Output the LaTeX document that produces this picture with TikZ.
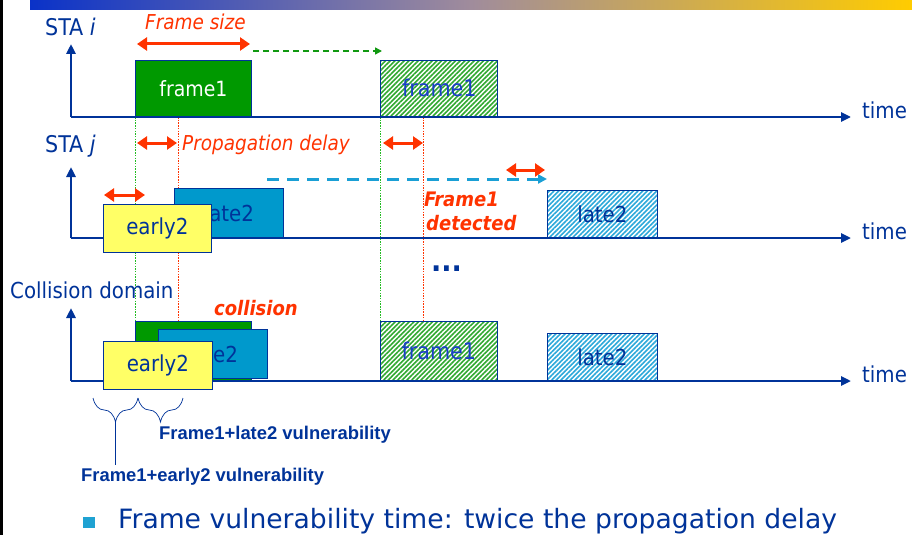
\documentclass[tikz,border=0pt]{standalone}
\usepackage{fontspec}
\setmainfont{DejaVuSansCondensed.ttf}[BoldFont=DejaVuSansCondensed-Bold.ttf, ItalicFont=DejaVuSansCondensed-Oblique.ttf, BoldItalicFont=DejaVuSansCondensed-BoldOblique.ttf]
\newfontfamily\arialf{Liberation Sans}
\newfontfamily\verdf{DejaVu Sans}
\usetikzlibrary{arrows.meta,patterns.meta,decorations.pathreplacing}
\definecolor{dblue}{HTML}{003399}
\definecolor{tblue}{HTML}{1A3FC8}
\definecolor{ored}{HTML}{FF3300}
\definecolor{fgreen}{HTML}{009900}
\definecolor{agreen}{HTML}{119911}
\definecolor{dotgreen}{HTML}{22BB22}
\definecolor{lblue}{HTML}{0099CC}
\definecolor{cdash}{HTML}{1A9FD5}
\definecolor{yel}{HTML}{FFFF66}
\definecolor{hgreen}{HTML}{2FA82F}
\definecolor{hcyan}{HTML}{2BA8DA}
\definecolor{bsq}{HTML}{1FA2D2}
\definecolor{gl}{HTML}{0A32C8}
\definecolor{gm}{HTML}{A08C9C}
\definecolor{gr}{HTML}{FFCC00}
\begin{document}
\begin{tikzpicture}[x=1pt,y=-1pt,
  lab/.style={text=dblue, inner sep=0, anchor=base west, font=\fontsize{23}{27}\selectfont},
  redlab/.style={text=ored, inner sep=0, anchor=base west, font=\fontsize{20.5}{24}\selectfont\itshape},
  redbold/.style={text=ored, inner sep=0, anchor=base west, font=\fontsize{20}{24}\selectfont\bfseries\itshape},
  frbox/.style={draw=dblue, line width=0.8pt, inner sep=0, anchor=south west, font=\fontsize{21}{25}\selectfont},
  axisline/.style={draw=dblue, line width=2.6pt, -{Triangle[length=10pt,width=9pt]}},
  dblarrow/.style={draw=ored, line width=3pt, {Triangle[length=10pt,width=13pt]}-{Triangle[length=10pt,width=13pt]}},
  gdot/.style={draw=dotgreen, line width=1pt, dash pattern=on 1.5pt off 1.2pt},
  rdot/.style={draw=ored, line width=1pt, dash pattern=on 1.5pt off 1.2pt},
  hatchg/.style={preaction={fill=white}, pattern={Lines[angle=45,distance=3.3pt,line width=1.6pt]}, pattern color=hgreen},
  hatchc/.style={preaction={fill=white}, pattern={Lines[angle=45,distance=3.3pt,line width=1.6pt]}, pattern color=hcyan},
  vuln/.style={text=dblue, inner sep=0, anchor=base west, font=\arialf\bfseries\fontsize{18.4}{22}\selectfont},
  brc/.style={draw=dblue, line width=0.7pt, decorate, decoration={brace, amplitude=24pt, mirror}}
]
\useasboundingbox (0,0) rectangle (912,535);
\fill[white] (0,0) rectangle (912,535);
% header
\shade[left color=gl, right color=gr, middle color=gm] (30,0) rectangle (912,10);
\fill[black] (0,0) rectangle (2.5,535);

% axes coordinates
\coordinate (o1) at (71,117); \coordinate (t1) at (71,44); \coordinate (e1) at (851,117);
\coordinate (o2) at (71,238); \coordinate (t2) at (71,167); \coordinate (e2) at (851,238);
\coordinate (o3) at (71,381); \coordinate (t3) at (71,308); \coordinate (e3) at (851,381);

% dotted guide lines
\coordinate (g1a) at (135,117); \coordinate (g1b) at (135,322);
\coordinate (r1a) at (178,117); \coordinate (r1b) at (178,327);
\coordinate (g2a) at (380,117); \coordinate (g2b) at (380,324);
\coordinate (r2a) at (423,117); \coordinate (r2b) at (423,328);
\draw[gdot] (g1a) -- (g1b);
\draw[rdot] (r1a) -- (r1b);
\draw[gdot] (g2a) -- (g2b);
\draw[rdot] (r2a) -- (r2b);

% axes
\draw[axisline] (o1) -- (t1);
\draw[axisline] (o1) -- (e1);
\draw[axisline] (o2) -- (t2);
\draw[axisline] (o2) -- (e2);
\draw[axisline] (o3) -- (t3);
\draw[axisline] (o3) -- (e3);

% row labels
\node[lab] (stai) at (45,36) {STA \textit{i}};
\node[lab] (staj) at (45,152) {STA \textit{j}};
\node[lab, font=\fontsize{22}{26}\selectfont] (cd) at (10,298) {Collision domain};
\node[lab, font=\fontsize{22}{26}\selectfont] (time1) at (862,118) {time};
\node[lab, font=\fontsize{22}{26}\selectfont] (time2) at (862,239) {time};
\node[lab, font=\fontsize{22}{26}\selectfont] (time3) at (862,382) {time};

% row 1
\node[frbox, fill=fgreen, text=white, minimum width=116pt, minimum height=56pt] (f1) at (135,117) {frame1};
\node[frbox, hatchg, text=tblue, font=\fontsize{23}{27}\selectfont, minimum width=117pt, minimum height=56pt] (f1h) at (380,117) {frame1};
\coordinate (fs1) at (137,44); \coordinate (fs2) at (250,44);
\draw[dblarrow] (fs1) -- (fs2);
\node[redlab] (fsize) at (145,30) {Frame size};
\coordinate (ga1) at (253,51); \coordinate (ga2) at (382,51);
\draw[draw=agreen, line width=1.5pt, dash pattern=on 6pt off 4pt, -{Triangle[length=7pt,width=7pt]}] (ga1) -- (ga2);

% row 2
\coordinate (pd1) at (137,143); \coordinate (pd2) at (177,143);
\draw[dblarrow] (pd1) -- (pd2);
\node[redlab] (pdel) at (182,150) {Propagation delay};
\coordinate (pe1) at (383,143); \coordinate (pe2) at (423,143);
\draw[dblarrow] (pe1) -- (pe2);
\coordinate (ca1) at (267,179); \coordinate (ca2) at (547,179);
\draw[draw=cdash, line width=3pt, dash pattern=on 12pt off 8pt, -{Triangle[length=9pt,width=9pt]}] (ca1) -- (ca2);
\coordinate (pc1) at (506,170); \coordinate (pc2) at (545,170);
\draw[dblarrow] (pc1) -- (pc2);
\node[frbox, fill=lblue, text=dblue, font=\fontsize{22}{26}\selectfont, minimum width=109pt, minimum height=49pt] (l2a) at (174,238) {late2};
\node[frbox, fill=yel, text=dblue, font=\fontsize{22}{26}\selectfont, minimum width=108pt, minimum height=48pt] (e2a) at (103,253) {early2};
\coordinate (pa1) at (104,195); \coordinate (pa2) at (145,195);
\draw[dblarrow] (pa1) -- (pa2);
\node[redbold] (det1) at (424,206) {Frame1};
\node[redbold] (det2) at (426,230) {detected};
\node[frbox, hatchc, text=dblue, font=\fontsize{22}{26}\selectfont, minimum width=110pt, minimum height=47pt] (l2h) at (547,238) {late2};
\node[text=dblue, inner sep=0, anchor=base west, font=\fontsize{30}{34}\selectfont\bfseries] (dots) at (431,271) {...};

% row 3
\node[redbold] (coll) at (214,315) {collision};
\node[frbox, fill=fgreen, minimum width=116pt, minimum height=59pt] (f1c) at (135,381) {};
\node[frbox, fill=lblue, text=dblue, font=\fontsize{22}{26}\selectfont, minimum width=109pt, minimum height=49pt] (l2c) at (158,379) {late2};
\node[frbox, fill=yel, text=dblue, font=\fontsize{22}{26}\selectfont, minimum width=109pt, minimum height=48pt] (e2c) at (103,390) {early2};
\node[frbox, hatchg, text=tblue, font=\fontsize{23}{27}\selectfont, minimum width=117pt, minimum height=59pt] (f1ch) at (380,381) {frame1};
\node[frbox, hatchc, text=dblue, font=\fontsize{22}{26}\selectfont, minimum width=110pt, minimum height=47pt] (l2ch) at (547,381) {late2};

% braces
\coordinate (b1a) at (93,398); \coordinate (b1b) at (138,398);
\coordinate (b2a) at (138,398); \coordinate (b2b) at (183,398);
\draw[brc] (b1a) -- (b1b);
\draw[brc] (b2a) -- (b2b);
\coordinate (bt1) at (115.5,422); \coordinate (bt1e) at (115.5,465);
\draw[draw=dblue, line width=0.7pt] (bt1) -- (bt1e);
\node[vuln] (vl2) at (159,439) {Frame1+late2 vulnerability};
\node[vuln] (ve2) at (81,481) {Frame1+early2 vulnerability};

% bullet
\node[fill=bsq, minimum width=12pt, minimum height=11pt, inner sep=0] (bul) at (89,522.5) {};
\node[text=dblue, inner sep=0, anchor=base west, font=\verdf\fontsize{26.6}{30}\selectfont] (bt) at (118,528) {Frame vulnerability time: twice the propagation delay};
\end{tikzpicture}
\end{document}
